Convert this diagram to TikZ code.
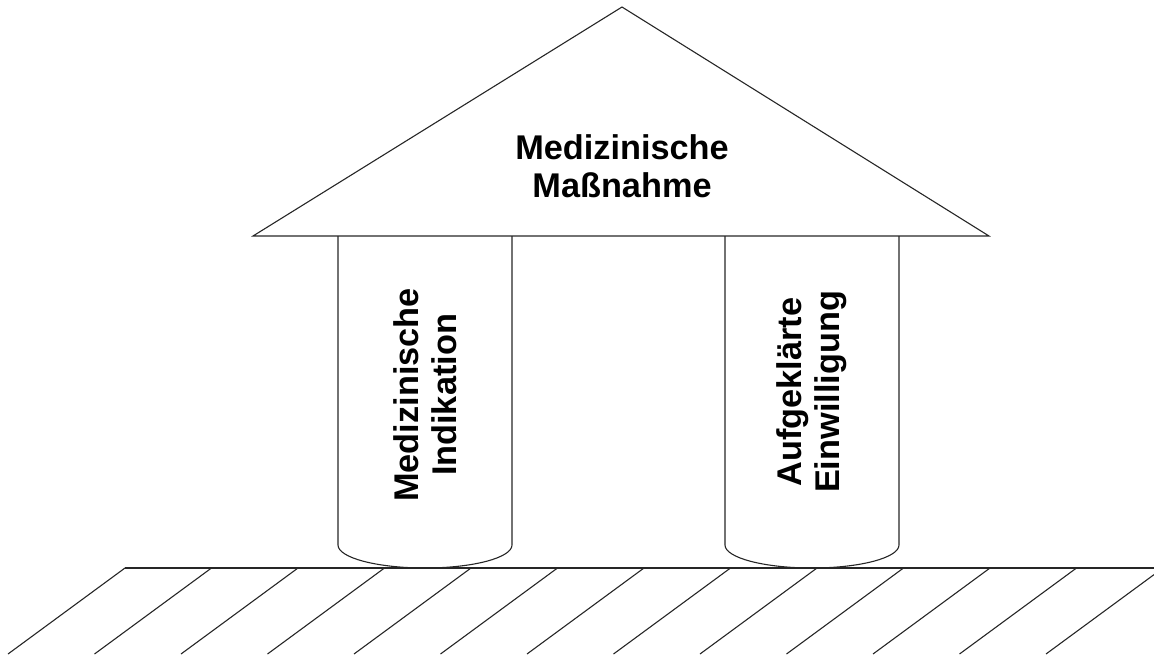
\documentclass[tikz,border=0pt]{standalone}
\usepackage{fontspec}
\setmainfont{Liberation Sans}
\begin{document}
\begin{tikzpicture}[x=1pt,y=-1pt,
  line/.style={draw=black!85, line width=1.1pt},
  lbl/.style={font=\bfseries\fontsize{34.3}{38}\selectfont, align=center, inner sep=0pt, text=black}]
\useasboundingbox (0,0) rectangle (1154,657);
\clip (0,0) rectangle (1154,657);
% pillars
\draw[line] (338,236) -- (338,545) arc[start angle=180, end angle=360, x radius=87pt, y radius=23pt] -- (512,236);
\draw[line] (725,236) -- (725,545) arc[start angle=180, end angle=360, x radius=87pt, y radius=23pt] -- (899,236);
% roof
\coordinate (rl) at (253,236);
\coordinate (rt) at (622,7);
\coordinate (rr) at (989,236);
\draw[line, line join=miter] (rl) -- (rt) -- (rr) -- cycle;
% ground
\coordinate (g0) at (125,568);
\coordinate (g1) at (1170,568);
\draw[line] (g0) -- (g1);
\foreach \k in {0,...,12} \draw[line] ({125+86.5*\k},568) -- ++(-117,86);
% texts
\node[lbl] (roof) at (622,166) {Medizinische\\Maßnahme};
\node[lbl, rotate=90] (ind) at (425,395) {Medizinische\\Indikation};
\node[lbl, rotate=90] (ein) at (812,392) {Aufgeklärte\\Einwilligung};
\end{tikzpicture}
\end{document}
